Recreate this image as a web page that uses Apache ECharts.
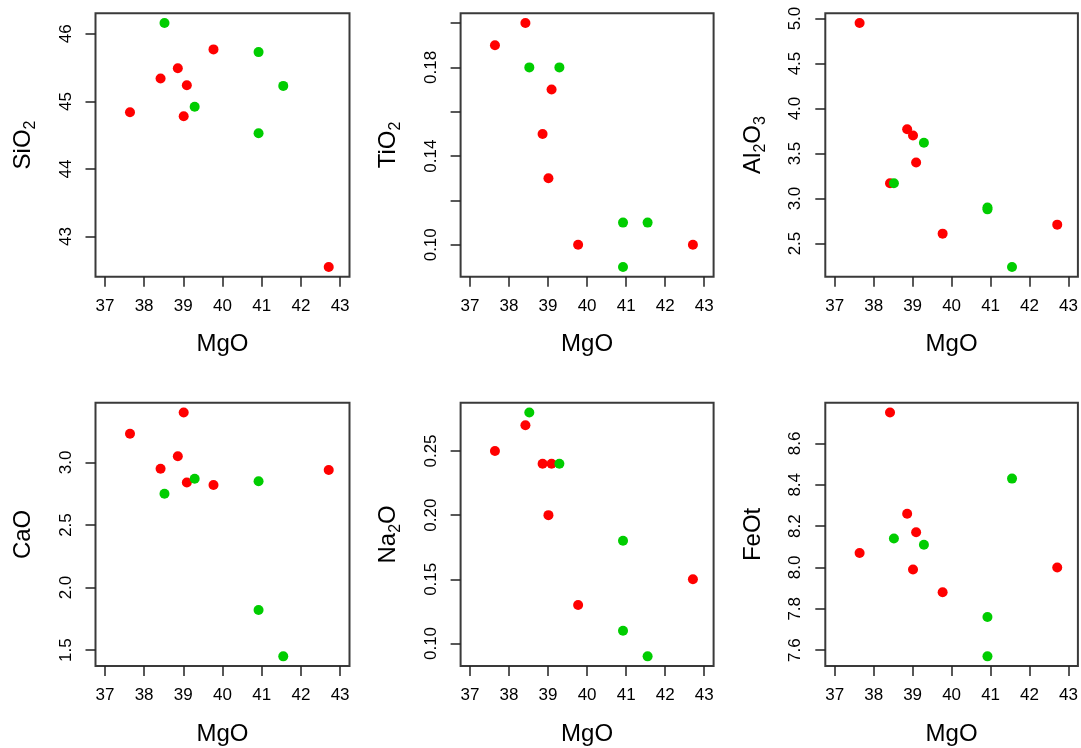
<!DOCTYPE html>
<html>
<head>
<meta charset="utf-8">
<script src="https://cdn.jsdelivr.net/npm/echarts@6/dist/echarts.min.js"></script>
<style>
  html, body { margin: 0; padding: 0; background: #fff; }
  #chart { width: 1081px; height: 748px; }
</style>
</head>
<body>
<div id="chart"></div>
<script>
// MgO values (x) for the two sample groups
const mgoRed = [37.64, 38.42, 38.86, 39.01, 39.09, 39.77, 42.71];
const mgoGreen = [38.52, 39.29, 40.92, 40.92, 41.55];
const mgoTicks = [37, 38, 39, 40, 41, 42, 43];

const sio2Red = [44.84, 45.34, 45.49, 44.78, 45.24, 45.77, 42.55];
const sio2Green = [46.16, 44.92, 45.73, 44.53, 45.23];
const sio2Ticks = [43, 44, 45, 46];

const tio2Red = [0.19, 0.20, 0.15, 0.13, 0.17, 0.10, 0.10];
const tio2Green = [0.18, 0.18, 0.11, 0.09, 0.11];
const tio2Ticks = [0.10, 0.12, 0.14, 0.16, 0.18, 0.20];
const tio2Labels = [0.10, 0.14, 0.18];

const al2o3Red = [4.95, 3.17, 3.77, 3.70, 3.40, 2.61, 2.71];
const al2o3Green = [3.17, 3.62, 2.90, 2.88, 2.24];
const al2o3Ticks = [2.5, 3.0, 3.5, 4.0, 4.5, 5.0];

const caoRed = [3.23, 2.95, 3.05, 3.40, 2.84, 2.82, 2.94];
const caoGreen = [2.75, 2.87, 2.85, 1.82, 1.45];
const caoTicks = [1.5, 2.0, 2.5, 3.0];

const na2oRed = [0.25, 0.27, 0.24, 0.20, 0.24, 0.13, 0.15];
const na2oGreen = [0.28, 0.24, 0.18, 0.11, 0.09];
const na2oTicks = [0.10, 0.15, 0.20, 0.25];

const feotRed = [8.07, 8.75, 8.26, 7.99, 8.17, 7.88, 8.00];
const feotGreen = [8.14, 8.11, 7.76, 7.57, 8.43];
const feotTicks = [7.6, 7.8, 8.0, 8.2, 8.4, 8.6];

const FONT = '"Liberation Sans", Arial, Helvetica, sans-serif';
const RED = '#FF0000';
const GREEN = '#00CD00';

const panels = [
  { name: '{n|SiO}{s|2}', red: sio2Red, green: sio2Green, ticks: sio2Ticks, labels: sio2Ticks, dec: 0 },
  { name: '{n|TiO}{s|2}', red: tio2Red, green: tio2Green, ticks: tio2Ticks, labels: tio2Labels, dec: 2 },
  { name: '{n|Al}{s|2}{n|O}{s|3}', red: al2o3Red, green: al2o3Green, ticks: al2o3Ticks, labels: al2o3Ticks, dec: 1 },
  { name: '{n|CaO}', red: caoRed, green: caoGreen, ticks: caoTicks, labels: caoTicks, dec: 1 },
  { name: '{n|Na}{s|2}{n|O}', red: na2oRed, green: na2oGreen, ticks: na2oTicks, labels: na2oTicks, dec: 2 },
  { name: '{n|FeOt}', red: feotRed, green: feotGreen, ticks: feotTicks, labels: feotTicks, dec: 1 }
];

const colLeft = [95.5, 460.6, 825.3];
const colWidth = [254, 253, 253.5];
const rowTop = [13.3, 402.7];
const rowHeight = 263.4;

// R-style 4% range extension
function padRange(lo, hi) {
  const d = (hi - lo) * 0.04;
  return [lo - d, hi + d];
}

const xRange = padRange(mgoTicks[0], mgoTicks[mgoTicks.length - 1]);

const grid = [], xAxis = [], yAxis = [], series = [];

panels.forEach((p, i) => {
  const col = i % 3, row = Math.floor(i / 3);
  const all = p.red.concat(p.green);
  const yRange = padRange(Math.min(...all), Math.max(...all));

  grid.push({
    left: colLeft[col], top: rowTop[row], width: colWidth[col], height: rowHeight,
    show: true, borderColor: '#3a3a3a', borderWidth: 2, backgroundColor: '#fff'
  });

  xAxis.push({
    type: 'value', gridIndex: i, min: xRange[0], max: xRange[1],
    name: 'MgO', nameLocation: 'middle', nameGap: 56,
    nameTextStyle: { fontSize: 24, fontFamily: FONT, color: '#000' },
    axisLine: { show: false },
    splitLine: { show: false },
    axisTick: { show: true, length: 10, customValues: mgoTicks, lineStyle: { color: '#222', width: 1.5 } },
    axisLabel: { customValues: mgoTicks, margin: 21, fontSize: 17, fontFamily: FONT, color: '#000' }
  });

  yAxis.push({
    type: 'value', gridIndex: i, min: yRange[0], max: yRange[1],
    name: p.name, nameLocation: 'middle', nameGap: 57,
    nameTextStyle: {
      fontFamily: FONT, color: '#000',
      rich: {
        n: { fontSize: 24, fontFamily: FONT, color: '#000', lineHeight: 30 },
        s: { fontSize: 16, fontFamily: FONT, color: '#000', lineHeight: 16, verticalAlign: 'bottom' }
      }
    },
    axisLine: { show: false },
    splitLine: { show: false },
    axisTick: { show: true, length: 10, customValues: p.ticks, lineStyle: { color: '#222', width: 1.5 } },
    axisLabel: {
      customValues: p.labels, rotate: 90, margin: 21, fontSize: 17, fontFamily: FONT, color: '#000',
      formatter: v => Number(v).toFixed(p.dec)
    }
  });

  series.push({
    type: 'scatter', xAxisIndex: i, yAxisIndex: i, symbolSize: 10,
    itemStyle: { color: RED, opacity: 1 },
    data: mgoRed.map((x, k) => [x, p.red[k]])
  });
  series.push({
    type: 'scatter', xAxisIndex: i, yAxisIndex: i, symbolSize: 10,
    itemStyle: { color: GREEN, opacity: 1 },
    data: mgoGreen.map((x, k) => [x, p.green[k]])
  });
});

const chart = echarts.init(document.getElementById('chart'), null, { renderer: 'canvas' });
chart.setOption({
  backgroundColor: '#fff',
  animation: false,
  grid, xAxis, yAxis, series
});
</script>
</body>
</html>
